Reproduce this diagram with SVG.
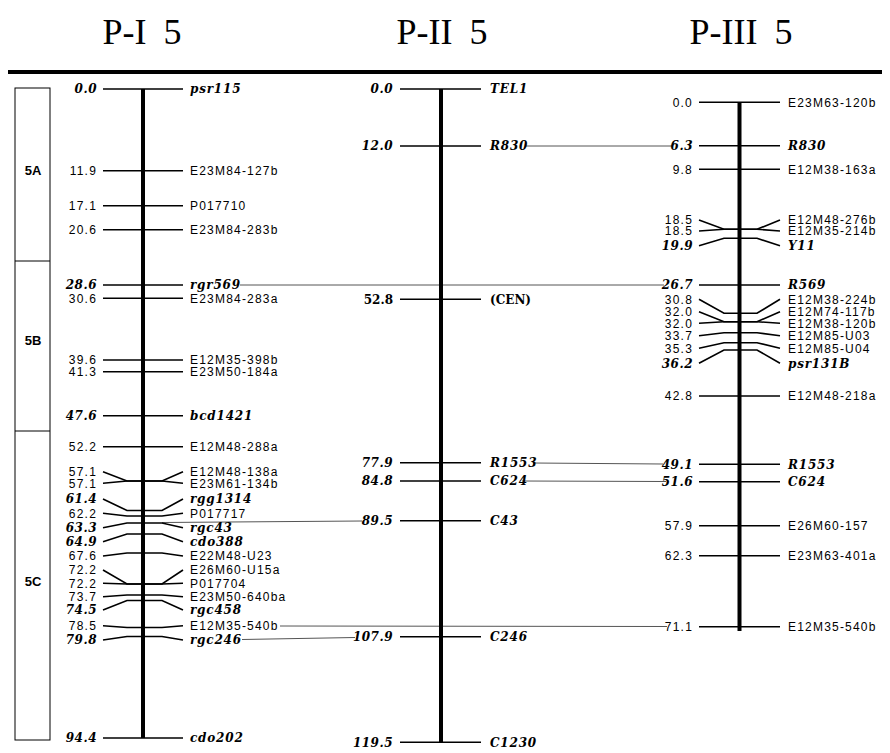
<svg xmlns="http://www.w3.org/2000/svg" width="890" height="753" viewBox="0 0 890 753">
<style>
.t{font-family:"Liberation Serif",serif;font-size:36px;text-anchor:middle;word-spacing:8px}
.bar{stroke:#000;stroke-width:4;fill:none}
.tk{stroke:#000;stroke-width:1.6;fill:none}
.cn{stroke:#555;stroke-width:1;fill:none}
.n{font-family:"Liberation Sans",sans-serif;font-size:12px;letter-spacing:1.2px;text-anchor:end}
.nb{font-family:"DejaVu Serif",serif;font-size:12px;font-weight:bold;font-style:italic;letter-spacing:0.5px;text-anchor:end}
.l{font-family:"Liberation Sans",sans-serif;font-size:12px;letter-spacing:1.2px}
.lb{font-family:"DejaVu Serif",serif;font-size:12px;font-weight:bold;font-style:italic;letter-spacing:0.8px}
.nc{font-family:"DejaVu Serif",serif;font-size:12px;font-weight:bold;text-anchor:end}
.lc{font-family:"DejaVu Serif",serif;font-size:12px;font-weight:bold}
.bx{fill:#fff;stroke:#000;stroke-width:1}
.bl{font-family:"Liberation Sans",sans-serif;font-size:13px;font-weight:bold;text-anchor:middle}
</style>
<rect width="890" height="753" fill="#fff"/>
<g id="titles">
<text class="t" x="142" y="44">P-I 5</text>
<text class="t" x="442" y="44">P-II 5</text>
<text class="t" x="741" y="44">P-III 5</text>
<line x1="8" y1="72" x2="882" y2="72" stroke="#000" stroke-width="4"/>
</g>
<g id="bins">
<rect class="bx" x="15" y="88" width="35" height="652"/>
<line class="tk" x1="15" y1="261" x2="50" y2="261" style="stroke-width:1"/>
<line class="tk" x1="15" y1="431" x2="50" y2="431" style="stroke-width:1"/>
<text class="bl" x="33" y="175">5A</text>
<text class="bl" x="33" y="345">5B</text>
<text class="bl" x="33" y="586">5C</text>
</g>
<g id="connectors">
<line class="cn" x1="240" y1="285" x2="664" y2="285"/>
<line class="cn" x1="525" y1="146" x2="672" y2="146"/>
<line class="cn" x1="162" y1="522.5" x2="362" y2="521"/>
<line class="cn" x1="280" y1="626" x2="667" y2="626.5"/>
<line class="cn" x1="242" y1="639.5" x2="355" y2="637.5"/>
<line class="cn" x1="533" y1="463" x2="663" y2="464"/>
<line class="cn" x1="522" y1="481" x2="666" y2="481.5"/>
</g>
<g id="chrom-PI">
<line class="bar" x1="143" y1="89" x2="143" y2="738"/>
<g id="PI-psr115"><line class="tk" x1="103" y1="89" x2="183" y2="89"/><text class="nb" x="97" y="93.4">0.0</text><text class="lb" x="190" y="93.4">psr115</text></g>
<g id="PI-E23M84-127b"><line class="tk" x1="103" y1="170.7" x2="183" y2="170.7"/><text class="n" x="97" y="175">11.9</text><text class="l" x="190" y="175">E23M84-127b</text></g>
<g id="PI-P017710"><line class="tk" x1="103" y1="205.7" x2="183" y2="205.7"/><text class="n" x="97" y="210">17.1</text><text class="l" x="190" y="210">P017710</text></g>
<g id="PI-E23M84-283b"><line class="tk" x1="103" y1="229.7" x2="183" y2="229.7"/><text class="n" x="97" y="234">20.6</text><text class="l" x="190" y="234">E23M84-283b</text></g>
<g id="PI-rgr569"><line class="tk" x1="103" y1="285" x2="183" y2="285"/><text class="nb" x="97" y="289.4">28.6</text><text class="lb" x="190" y="289.4">rgr569</text></g>
<g id="PI-E23M84-283a"><line class="tk" x1="103" y1="298.3" x2="183" y2="298.3"/><text class="n" x="97" y="302.6">30.6</text><text class="l" x="190" y="302.6">E23M84-283a</text></g>
<g id="PI-E12M35-398b"><line class="tk" x1="103" y1="360" x2="183" y2="360"/><text class="n" x="97" y="364.3">39.6</text><text class="l" x="190" y="364.3">E12M35-398b</text></g>
<g id="PI-E23M50-184a"><line class="tk" x1="103" y1="371.7" x2="183" y2="371.7"/><text class="n" x="97" y="376">41.3</text><text class="l" x="190" y="376">E23M50-184a</text></g>
<g id="PI-bcd1421"><line class="tk" x1="103" y1="415.7" x2="183" y2="415.7"/><text class="nb" x="97" y="420.1">47.6</text><text class="lb" x="190" y="420.1">bcd1421</text></g>
<g id="PI-E12M48-288a"><line class="tk" x1="103" y1="446.7" x2="183" y2="446.7"/><text class="n" x="97" y="451">52.2</text><text class="l" x="190" y="451">E12M48-288a</text></g>
<g id="PI-E12M48-138a"><polyline class="tk" points="103,471.7 127,481 162,481 183,471.7"/><text class="n" x="97" y="476">57.1</text><text class="l" x="190" y="476">E12M48-138a</text></g>
<g id="PI-E23M61-134b"><polyline class="tk" points="103,483.3 127,481 162,481 183,483.3"/><text class="n" x="97" y="487.6">57.1</text><text class="l" x="190" y="487.6">E23M61-134b</text></g>
<g id="PI-rgg1314"><polyline class="tk" points="103,499 127,510.5 162,510.5 183,499"/><text class="nb" x="97" y="503.4">61.4</text><text class="lb" x="190" y="503.4">rgg1314</text></g>
<g id="PI-P017717"><polyline class="tk" points="103,513.3 127,516 162,516 183,513.3"/><text class="n" x="97" y="517.6">62.2</text><text class="l" x="190" y="517.6">P017717</text></g>
<g id="PI-rgc43"><polyline class="tk" points="103,527.7 127,523 162,523 183,527.7"/><text class="nb" x="97" y="532.1">63.3</text><text class="lb" x="190" y="532.1">rgc43</text></g>
<g id="PI-cdo388"><polyline class="tk" points="103,541.7 127,534 162,534 183,541.7"/><text class="nb" x="97" y="546.1">64.9</text><text class="lb" x="190" y="546.1">cdo388</text></g>
<g id="PI-E22M48-U23"><polyline class="tk" points="103,556 127,553 162,553 183,556"/><text class="n" x="97" y="560.3">67.6</text><text class="l" x="190" y="560.3">E22M48-U23</text></g>
<g id="PI-E26M60-U15a"><polyline class="tk" points="103,570 127,584 162,584 183,570"/><text class="n" x="97" y="574.3">72.2</text><text class="l" x="190" y="574.3">E26M60-U15a</text></g>
<g id="PI-P017704"><polyline class="tk" points="103,583.3 127,584 162,584 183,583.3"/><text class="n" x="97" y="587.6">72.2</text><text class="l" x="190" y="587.6">P017704</text></g>
<g id="PI-E23M50-640ba"><polyline class="tk" points="103,596.7 127,595 162,595 183,596.7"/><text class="n" x="97" y="601">73.7</text><text class="l" x="190" y="601">E23M50-640ba</text></g>
<g id="PI-rgc458"><polyline class="tk" points="103,610 127,600.5 162,600.5 183,610"/><text class="nb" x="97" y="614.4">74.5</text><text class="lb" x="190" y="614.4">rgc458</text></g>
<g id="PI-E12M35-540b"><polyline class="tk" points="103,625.7 127,627.5 162,627.5 183,625.7"/><text class="n" x="97" y="630">78.5</text><text class="l" x="190" y="630">E12M35-540b</text></g>
<g id="PI-rgc246"><polyline class="tk" points="103,640 127,636.5 162,636.5 183,640"/><text class="nb" x="97" y="644.4">79.8</text><text class="lb" x="190" y="644.4">rgc246</text></g>
<g id="PI-cdo202"><line class="tk" x1="103" y1="738" x2="183" y2="738"/><text class="nb" x="97" y="742.4">94.4</text><text class="lb" x="190" y="742.4">cdo202</text></g>
</g>
<g id="chrom-PII">
<line class="bar" x1="441" y1="89" x2="441" y2="742"/>
<g id="PII-TEL1"><line class="tk" x1="400" y1="89" x2="481" y2="89"/><text class="nb" x="393" y="93.4">0.0</text><text class="lb" x="490" y="93.4">TEL1</text></g>
<g id="PII-R830"><line class="tk" x1="400" y1="146" x2="481" y2="146"/><text class="nb" x="393" y="150.4">12.0</text><text class="lb" x="490" y="150.4">R830</text></g>
<g id="PII-CEN"><line class="tk" x1="400" y1="299.3" x2="481" y2="299.3"/><text class="nc" x="393" y="303.7">52.8</text><text class="lc" x="490" y="303.7">(CEN)</text></g>
<g id="PII-R1553"><line class="tk" x1="400" y1="462.7" x2="481" y2="462.7"/><text class="nb" x="393" y="467.1">77.9</text><text class="lb" x="490" y="467.1">R1553</text></g>
<g id="PII-C624"><line class="tk" x1="400" y1="481" x2="481" y2="481"/><text class="nb" x="393" y="485.4">84.8</text><text class="lb" x="490" y="485.4">C624</text></g>
<g id="PII-C43"><line class="tk" x1="400" y1="520.7" x2="481" y2="520.7"/><text class="nb" x="393" y="525.1">89.5</text><text class="lb" x="490" y="525.1">C43</text></g>
<g id="PII-C246"><line class="tk" x1="400" y1="636.7" x2="481" y2="636.7"/><text class="nb" x="393" y="641.1">107.9</text><text class="lb" x="490" y="641.1">C246</text></g>
<g id="PII-C1230"><line class="tk" x1="400" y1="742.3" x2="481" y2="742.3"/><text class="nb" x="393" y="746.7">119.5</text><text class="lb" x="490" y="746.7">C1230</text></g>
</g>
<g id="chrom-PIII">
<line class="bar" x1="739.5" y1="102" x2="739.5" y2="631"/>
<g id="PIII-E23M63-120b"><line class="tk" x1="699" y1="102.3" x2="780" y2="102.3"/><text class="n" x="693" y="106.6">0.0</text><text class="l" x="788" y="106.6">E23M63-120b</text></g>
<g id="PIII-R830"><line class="tk" x1="699" y1="145.7" x2="780" y2="145.7"/><text class="nb" x="693" y="150.1">6.3</text><text class="lb" x="788" y="150.1">R830</text></g>
<g id="PIII-E12M38-163a"><line class="tk" x1="699" y1="169.3" x2="780" y2="169.3"/><text class="n" x="693" y="173.6">9.8</text><text class="l" x="788" y="173.6">E12M38-163a</text></g>
<g id="PIII-E12M48-276b"><polyline class="tk" points="699,220 724,229.3 757,229.3 780,220"/><text class="n" x="693" y="224.3">18.5</text><text class="l" x="788" y="224.3">E12M48-276b</text></g>
<g id="PIII-E12M35-214b"><polyline class="tk" points="699,231 724,229.3 757,229.3 780,231"/><text class="n" x="693" y="235.3">18.5</text><text class="l" x="788" y="235.3">E12M35-214b</text></g>
<g id="PIII-Y11"><polyline class="tk" points="699,245.7 724,238.3 757,238.3 780,245.7"/><text class="nb" x="693" y="250.1">19.9</text><text class="lb" x="788" y="250.1">Y11</text></g>
<g id="PIII-R569"><line class="tk" x1="699" y1="285" x2="780" y2="285"/><text class="nb" x="693" y="289.4">26.7</text><text class="lb" x="788" y="289.4">R569</text></g>
<g id="PIII-E12M38-224b"><polyline class="tk" points="699,299.3 724,313.3 757,313.3 780,299.3"/><text class="n" x="693" y="303.6">30.8</text><text class="l" x="788" y="303.6">E12M38-224b</text></g>
<g id="PIII-E12M74-117b"><polyline class="tk" points="699,311.7 724,321.7 757,321.7 780,311.7"/><text class="n" x="693" y="316">32.0</text><text class="l" x="788" y="316">E12M74-117b</text></g>
<g id="PIII-E12M38-120b"><polyline class="tk" points="699,323.3 724,321.7 757,321.7 780,323.3"/><text class="n" x="693" y="327.6">32.0</text><text class="l" x="788" y="327.6">E12M38-120b</text></g>
<g id="PIII-E12M85-U03"><polyline class="tk" points="699,335.7 724,332.7 757,332.7 780,335.7"/><text class="n" x="693" y="340">33.7</text><text class="l" x="788" y="340">E12M85-U03</text></g>
<g id="PIII-E12M85-U04"><polyline class="tk" points="699,348.3 724,342.7 757,342.7 780,348.3"/><text class="n" x="693" y="352.6">35.3</text><text class="l" x="788" y="352.6">E12M85-U04</text></g>
<g id="PIII-psr131B"><polyline class="tk" points="699,363.3 724,350 757,350 780,363.3"/><text class="nb" x="693" y="367.7">36.2</text><text class="lb" x="788" y="367.7">psr131B</text></g>
<g id="PIII-E12M48-218a"><line class="tk" x1="699" y1="396" x2="780" y2="396"/><text class="n" x="693" y="400.3">42.8</text><text class="l" x="788" y="400.3">E12M48-218a</text></g>
<g id="PIII-R1553"><line class="tk" x1="699" y1="464.3" x2="780" y2="464.3"/><text class="nb" x="693" y="468.7">49.1</text><text class="lb" x="788" y="468.7">R1553</text></g>
<g id="PIII-C624"><line class="tk" x1="699" y1="481.7" x2="780" y2="481.7"/><text class="nb" x="693" y="486.1">51.6</text><text class="lb" x="788" y="486.1">C624</text></g>
<g id="PIII-E26M60-157"><line class="tk" x1="699" y1="525.7" x2="780" y2="525.7"/><text class="n" x="693" y="530">57.9</text><text class="l" x="788" y="530">E26M60-157</text></g>
<g id="PIII-E23M63-401a"><line class="tk" x1="699" y1="555.7" x2="780" y2="555.7"/><text class="n" x="693" y="560">62.3</text><text class="l" x="788" y="560">E23M63-401a</text></g>
<g id="PIII-E12M35-540b"><line class="tk" x1="699" y1="626.7" x2="780" y2="626.7"/><text class="n" x="693" y="631">71.1</text><text class="l" x="788" y="631">E12M35-540b</text></g>
</g>
</svg>
